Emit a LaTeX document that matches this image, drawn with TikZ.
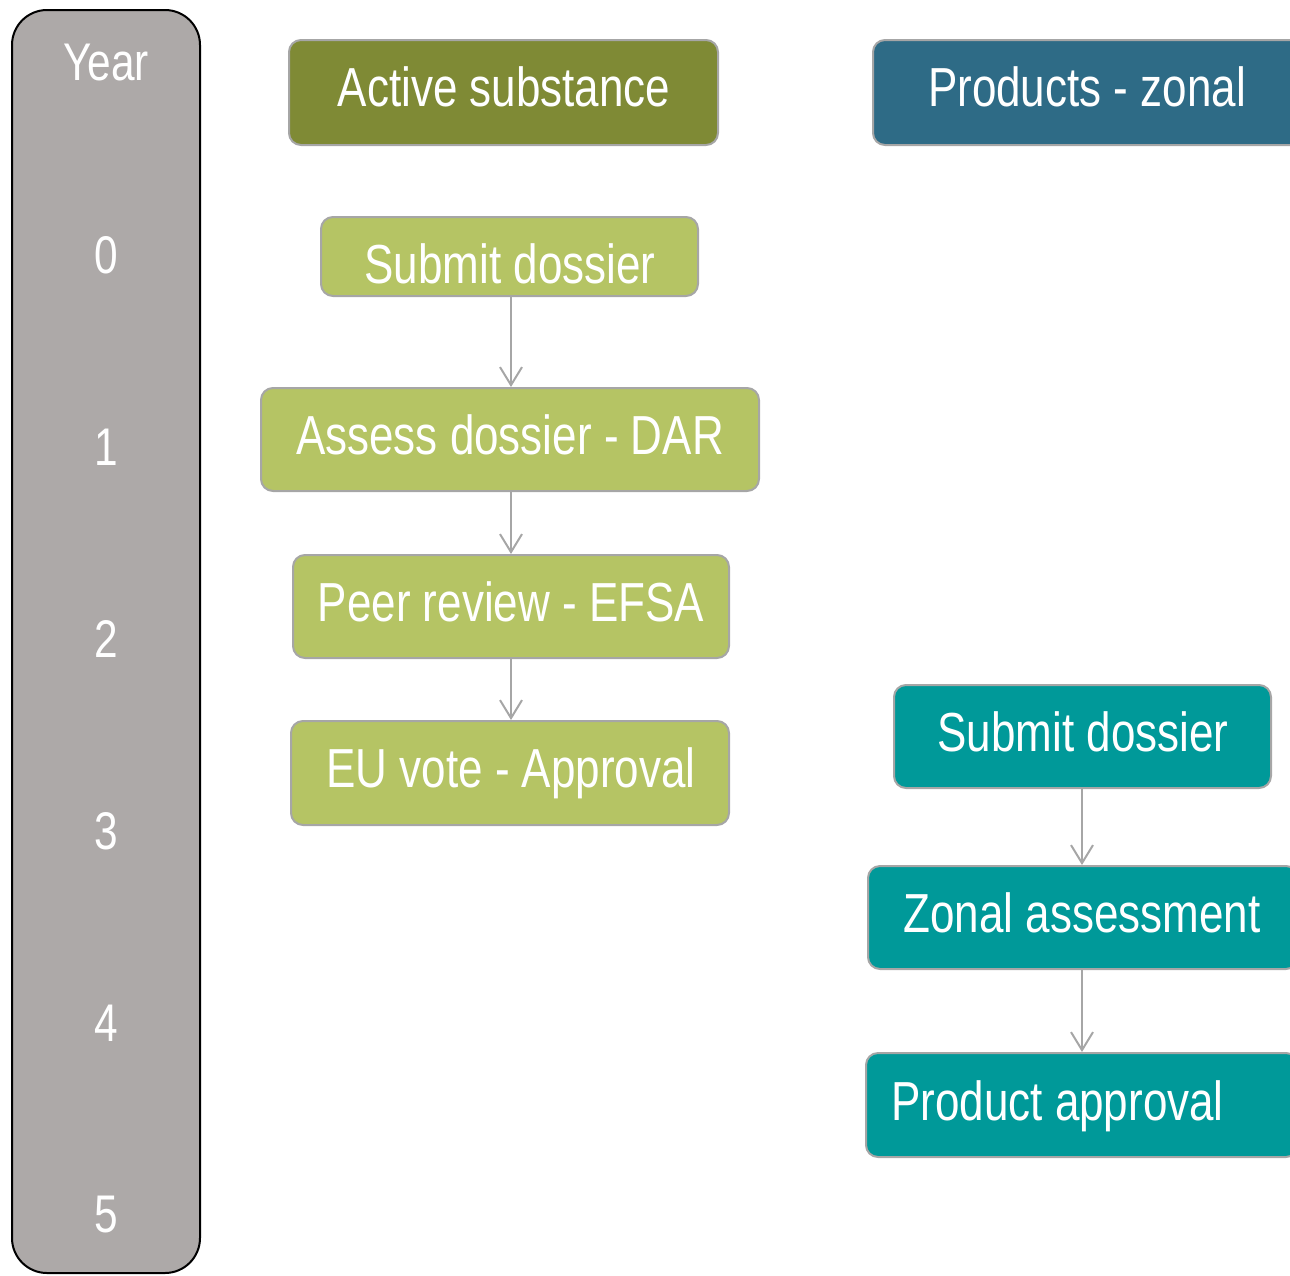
\documentclass[tikz,border=0pt]{standalone}
\usepackage{fontspec}
\setmainfont{Liberation Sans}[FakeStretch=0.80]
\usetikzlibrary{arrows.meta}
\definecolor{yearfill}{HTML}{ADA9A8}
\definecolor{olive}{HTML}{7F8A35}
\definecolor{lightolive}{HTML}{B5C464}
\definecolor{petrol}{HTML}{2E6B86}
\definecolor{teal}{HTML}{009999}
\definecolor{edgegray}{HTML}{A6A6A6}
\tikzset{
  box/.style={draw=edgegray, line width=2pt, rounded corners=12pt, inner sep=0pt},
  lbl/.style={text=white, font=\fontsize{55}{60}\selectfont, inner sep=0pt, anchor=base},
  yr/.style={text=white, font=\fontsize{53}{58}\selectfont},
  flow/.style={draw=edgegray, line width=2pt, -{Straight Barb[length=18pt,width=22pt,line width=2pt]}}
}
\begin{document}
\begin{tikzpicture}[x=1pt,y=-1pt]
\useasboundingbox (0,0) rectangle (1290,1275);
\clip (0,0) rectangle (1290,1275);
% year bar
\draw[fill=yearfill, draw=black, line width=2pt, rounded corners=35pt] (12,10) rectangle (200,1273);
\node[yr] (year) at (106,63) {Year};
\node[yr] (y0) at (106,255) {0};
\node[yr] (y1) at (106,447) {1};
\node[yr] (y2) at (106,639) {2};
\node[yr] (y3) at (106,831) {3};
\node[yr] (y4) at (106,1023) {4};
\node[yr] (y5) at (106,1215) {5};
% active substance column
\node[box, fill=olive, minimum width=429pt, minimum height=105pt] (as) at (503.5,92.5) {};
\node[box, fill=lightolive, minimum width=377pt, minimum height=79pt] (s1) at (509.5,256.5) {};
\node[box, fill=lightolive, minimum width=498pt, minimum height=103pt] (s2) at (510,439.5) {};
\node[box, fill=lightolive, minimum width=436pt, minimum height=103pt] (s3) at (511,606.5) {};
\node[box, fill=lightolive, minimum width=438pt, minimum height=104pt] (s4) at (510,773) {};
\node[lbl] (ast) at (504,106) {Active substance};
\node[lbl] (s1t) at (510,283) {Submit dossier};
\node[lbl] (s2t) at (510,454) {Assess dossier - DAR};
\node[lbl] (s3t) at (511,621) {Peer review - EFSA};
\node[lbl] (s4t) at (511,787) {EU vote - Approval};
\draw[flow] (s1.south -| 511,0) -- (s2.north -| 511,0);
\draw[flow] (s2.south -| 511,0) -- (s3.north -| 511,0);
\draw[flow] (s3.south -| 511,0) -- (s4.north -| 511,0);
% products column
\node[box, fill=petrol, minimum width=430pt, minimum height=105pt] (pz) at (1088,92.5) {};
\node[box, fill=teal, minimum width=377pt, minimum height=103pt] (p1) at (1082.5,736.5) {};
\node[box, fill=teal, minimum width=430pt, minimum height=103pt] (p2) at (1083,917.5) {};
\node[box, fill=teal, minimum width=432pt, minimum height=104pt] (p3) at (1082,1105) {};
\node[lbl] (pzt) at (1087,106) {Products - zonal};
\node[lbl] (p1t) at (1083,751) {Submit dossier};
\node[lbl] (p2t) at (1082,932) {Zonal assessment};
\node[lbl, anchor=base west] (p3t) at (891,1120) {Product approval};
\draw[flow] (p1.south -| 1082,0) -- (p2.north -| 1082,0);
\draw[flow] (p2.south -| 1082,0) -- (p3.north -| 1082,0);
\end{tikzpicture}
\end{document}
